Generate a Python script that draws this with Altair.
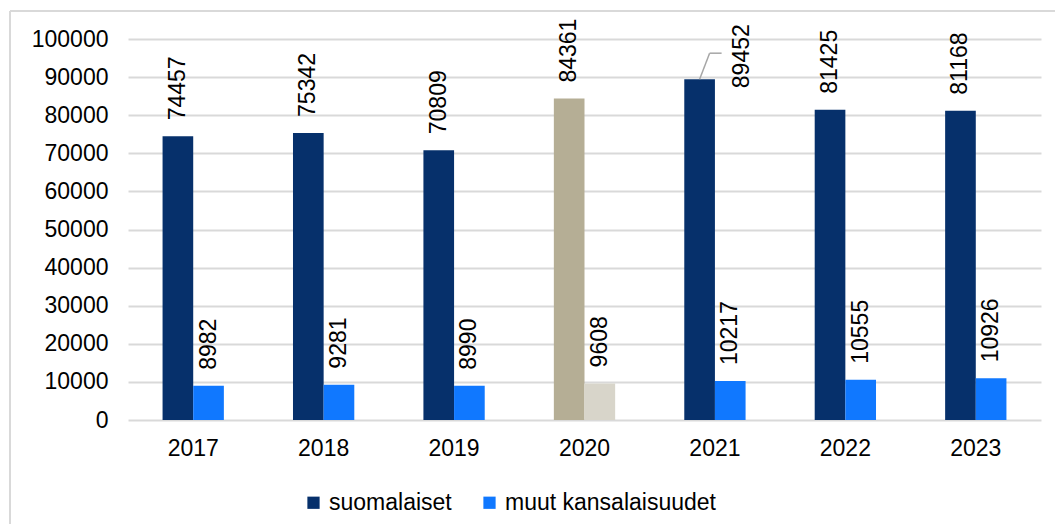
import altair as alt
import pandas as pd

years = ["2017", "2018", "2019", "2020", "2021", "2022", "2023"]
finns = [74457, 75342, 70809, 84361, 89452, 81425, 81168]
others = [8982, 9281, 8990, 9608, 10217, 10555, 10926]
series_names = ["suomalaiset", "muut kansalaisuudet"]
y_ticks = [0, 10000, 20000, 30000, 40000, 50000, 60000, 70000, 80000, 90000, 100000]
highlight_year = "2020"
callout_year = "2021"

rows = []
for yr, f, o in zip(years, finns, others):
    for s, v in zip(series_names, (f, o)):
        key = s + (" " + highlight_year if yr == highlight_year else "")
        rows.append({"year": yr, "series": s, "value": v, "key": key})
df = pd.DataFrame(rows)

color_domain = series_names + [s + " " + highlight_year for s in series_names]
color_range = ["#06306B", "#1078FF", "#B5AE95", "#D8D5CA"]

FONT = "Liberation Sans"
FS = 23

x_scale = alt.Scale(paddingInner=0.53, paddingOuter=0.265)
x_axis = alt.Axis(labelAngle=0, labelFontSize=FS, labelPadding=17, ticks=False,
                  domain=False, grid=False, labelColor="#000000")
y_scale = alt.Scale(domain=[0, 100000])
y_axis = alt.Axis(values=y_ticks, format="d", labelOverlap=False, labelFontSize=FS,
                  labelPadding=20, ticks=False, domain=False, gridColor="#D9D9D9",
                  gridWidth=2, labelColor="#000000", tickCount=11)


def X(**kw):
    return alt.X("year:N", sort=years, title=None, scale=x_scale, axis=x_axis, **kw)


def Y():
    return alt.Y("value:Q", title=None, scale=y_scale, axis=y_axis)


def XO():
    return alt.XOffset("series:N", sort=series_names,
                       scale=alt.Scale(paddingInner=0, paddingOuter=0))


base = alt.Chart(df)

bars = base.mark_bar().encode(
    x=X(), xOffset=XO(), y=Y(),
    color=alt.Color(
        "key:N",
        scale=alt.Scale(domain=color_domain, range=color_range),
        legend=alt.Legend(values=series_names, title=None, orient="none",
                          legendX=174, legendY=452, direction="horizontal",
                          symbolType="square", symbolSize=150, symbolStrokeWidth=0,
                          labelFontSize=FS, labelFont=FONT, labelColor="#000000",
                          labelLimit=0, columnPadding=26, labelOffset=4),
    ),
)

is_callout = (alt.datum.year == callout_year) & (alt.datum.series == series_names[0])

labels = base.transform_filter(~is_callout).mark_text(
    angle=270, align="left", baseline="middle", dx=16, fontSize=FS, font=FONT, color="#000000"
).encode(x=X(), xOffset=XO(), y=Y(), text="value:Q")

callout = base.transform_filter(is_callout).mark_text(
    angle=270, align="left", baseline="middle", dx=-9, dy=42, fontSize=FS, font=FONT, color="#000000"
).encode(x=X(), xOffset=XO(), y=Y(), text="value:Q")

leader1 = base.transform_filter(is_callout).mark_rule(
    color="#A6A6A6", strokeWidth=1.5, x2Offset=10, y2Offset=-26
).encode(x=X(bandPosition=0.25),
         x2=alt.X2("year", bandPosition=0.25),
         y=Y(), y2="value")

leader2 = base.transform_filter(is_callout).mark_rule(
    color="#A6A6A6", strokeWidth=1.5, xOffset=10, x2Offset=22, yOffset=-26, y2Offset=-26
).encode(x=X(bandPosition=0.25),
         x2=alt.X2("year", bandPosition=0.25),
         y=Y(), y2="value")

frame_df = pd.DataFrame({"k": [0]})
top_border = alt.Chart(frame_df).mark_rule(color="#D9D9D9", strokeWidth=2).encode(
    x=alt.value(-118), x2=alt.value(960), y=alt.value(-28), y2=alt.value(-28))
left_border = alt.Chart(frame_df).mark_rule(color="#D9D9D9", strokeWidth=2).encode(
    x=alt.value(-118), x2=alt.value(-118), y=alt.value(-28), y2=alt.value(500))

chart = alt.layer(bars, labels, callout, leader1, leader2, top_border, left_border).properties(
    width=913, height=381,
    autosize=alt.AutoSizeParams(type="none"),
    padding={"left": 120, "top": 31, "right": 14, "bottom": 104},
).configure_view(stroke=None).configure_axis(labelFont=FONT).configure_text(font=FONT)

chart.save("out.html", embed_options={"renderer": "svg", "actions": False})
